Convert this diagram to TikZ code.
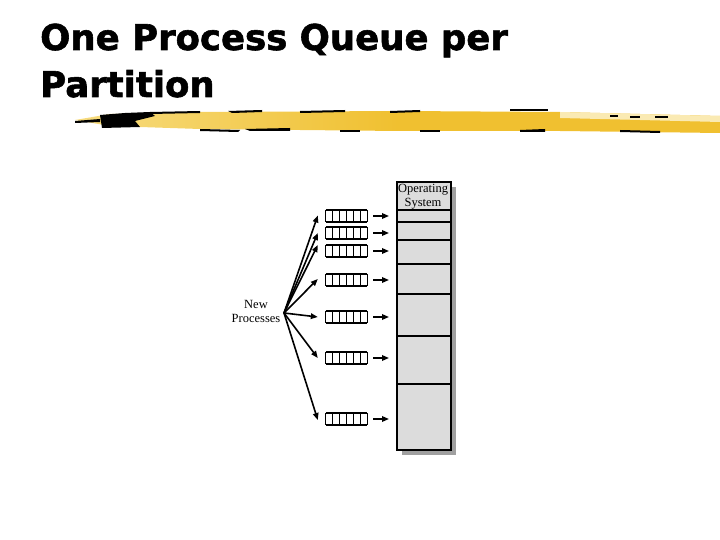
\documentclass[tikz,border=0pt]{standalone}
\usepackage{fontspec}
\setmainfont{Liberation Serif}
\newfontfamily\titlefont[FakeBold=1.6]{DejaVu Sans Bold}
\usetikzlibrary{arrows.meta,calc}
\definecolor{brushY}{HTML}{F0C030}
\definecolor{brushL}{HTML}{F7DC80}
\definecolor{memfill}{HTML}{DCDCDC}
\definecolor{shadowc}{HTML}{A0A0A0}
\begin{document}
\begin{tikzpicture}[x=1pt,y=-1pt,
  lbl/.style={font=\fontsize{12.5}{14}\selectfont, align=center, inner sep=0pt},
  queue/.style={minimum width=41pt, minimum height=12pt, inner sep=0pt},
  arr/.style={line width=1.6pt, -{Triangle[length=7pt,width=5.5pt]}},
  qline/.style={line width=1.6pt},
]
\useasboundingbox (0,0) rectangle (720,540);
% title
\node[anchor=base west, inner sep=0pt, font=\titlefont\fontsize{35.5}{47}\selectfont] (t1) at (40,50) {One Process Queue per};
\node[anchor=base west, inner sep=0pt, font=\titlefont\fontsize{35.5}{47}\selectfont] (t2) at (40,97) {Partition};
% brush stroke
\shade[left color=brushL, right color=brushY, middle color=brushY]
  (75,120) -- (110,114) -- (200,112) -- (400,111) -- (560,112) -- (720,116)
  -- (720,133) -- (560,131) -- (400,131) -- (200,129) -- (110,126) -- cycle;
\fill[brushL!60!white] (560,112) -- (720,116) -- (720,122) -- (560,118) -- cycle;
\fill[black] (75,121) -- (100,119) -- (100,122) -- (75,123) -- cycle;
\fill[black] (100,115) -- (125,113) -- (150,112) -- (155,116) -- (135,121) -- (140,127) -- (102,128) -- cycle;
\fill[black] (150,112) -- (200,111) -- (200,113) -- (150,114) -- cycle;
\fill[black] (228,111) -- (262,110) -- (262,112) -- (232,113) -- cycle;
\fill[black] (300,111) -- (345,110) -- (345,112) -- (300,113) -- cycle;
\fill[black] (390,111) -- (420,110) -- (420,112) -- (390,113) -- cycle;
\fill[black] (510,109) -- (548,109) -- (548,111) -- (510,111) -- cycle;
\fill[black] (200,129) -- (240,130) -- (238,132) -- (200,131) -- cycle;
\fill[black] (245,129) -- (290,128) -- (290,131) -- (250,131) -- cycle;
\fill[black] (340,130) -- (360,130) -- (360,132) -- (340,132) -- cycle;
\fill[black] (420,130) -- (440,130) -- (440,132) -- (420,132) -- cycle;
\fill[black] (520,130) -- (545,129) -- (545,132) -- (520,132) -- cycle;
\fill[black] (620,130) -- (660,131) -- (660,133) -- (620,132) -- cycle;
\fill[black] (610,115) -- (618,115) -- (618,117) -- (610,117) -- cycle;
\fill[black] (630,116) -- (640,116) -- (640,118) -- (630,118) -- cycle;
\fill[black] (655,116) -- (668,116) -- (668,118) -- (655,118) -- cycle;
% memory
\fill[shadowc] (402,187) rectangle (456,455);
\node[draw, line width=1.8pt, fill=memfill, minimum width=54pt, minimum height=268pt, inner sep=0pt, anchor=north west] (mem) at (396,181) {};
\foreach \y in {210,222,240,264,294,336,384}
  \draw[line width=1.5pt] (mem.west |- 0,\y) -- (mem.east |- 0,\y);
\node[lbl, anchor=north] (os) at (423,184) {Operating\\System};
% queues
\foreach \i/\y in {1/216,2/233,3/251,4/280,5/317,6/358,7/419} {
  \node[queue] (q\i) at (346.5,\y) {};
  \draw[qline] (q\i.north west) -- (q\i.north east);
  \draw[qline] (q\i.south west) -- (q\i.south east);
  \foreach \j in {0,...,6}
    \draw[line width=1.3pt] ($(q\i.north west)!\j/6!(q\i.north east)$) -- ($(q\i.south west)!\j/6!(q\i.south east)$);
  \draw[arr] ([xshift=6pt]q\i.east) -- ([xshift=-7pt]mem.west |- q\i.east);
}
% new processes
\node[lbl] (np) at (256,311) {New\\Processes};
\coordinate (src) at (284,313);
\foreach \i/\dy in {1/0.5,2/0,3/6,4/1,5/0,6/0,7/-1}
  \draw[arr] (src) -- ([xshift=-8pt,yshift=\dy pt]q\i.west);
\end{tikzpicture}
\end{document}
